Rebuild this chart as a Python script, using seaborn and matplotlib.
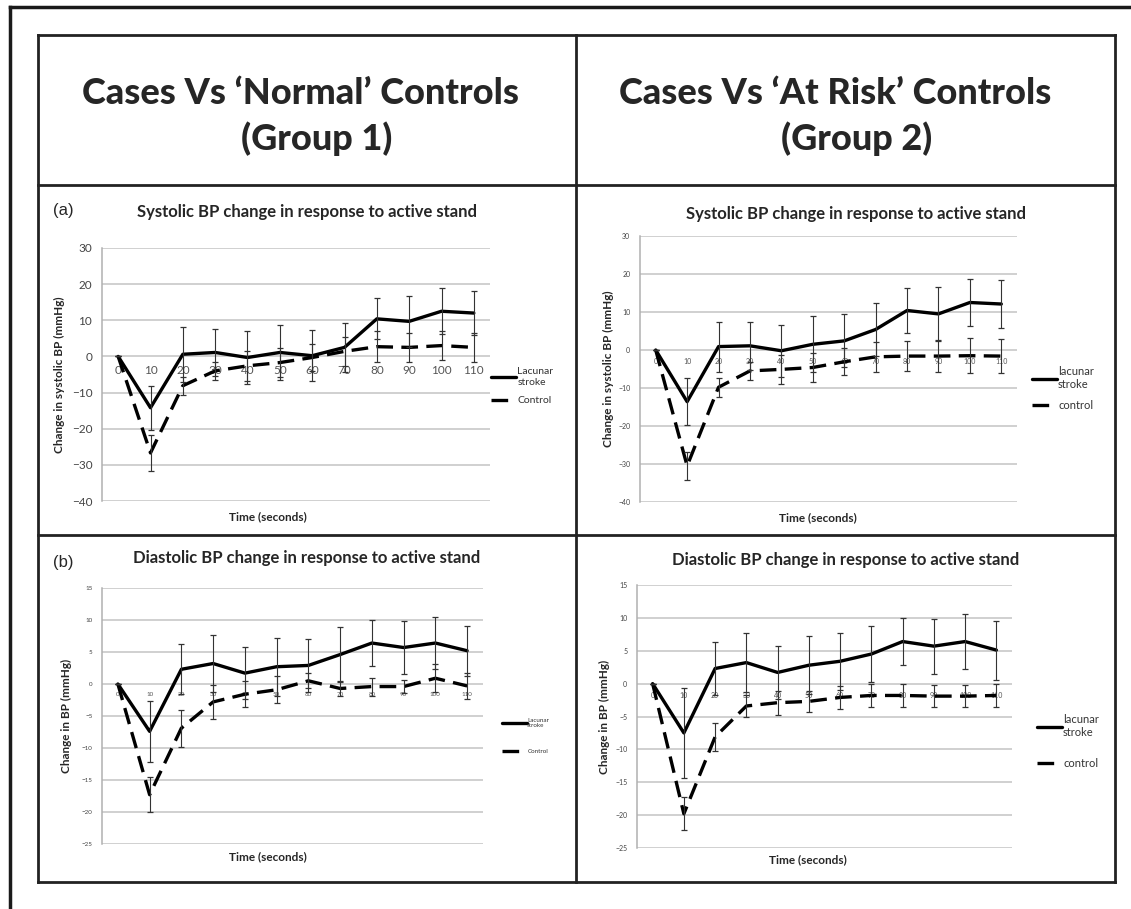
import numpy as np
import pandas as pd
import matplotlib.pyplot as plt
import seaborn as sns
from matplotlib.lines import Line2D

sns.set_style("white")
plt.rcParams['font.family'] = ['Lato', 'DejaVu Sans']

# time points (seconds)
time_s = [0, 10, 20, 30, 40, 50, 60, 70, 80, 90, 100, 110]

# (a) systolic, group 1 (normal controls)
sys1_lacunar = [0, -14.2, 0.6, 1.1, -0.3, 1.1, 0.2, 2.5, 10.4, 9.7, 12.5, 12.0]
sys1_lacunar_err = [0, 6.1, 7.6, 6.5, 7.2, 7.6, 7.1, 6.7, 5.7, 7.1, 6.3, 6.0]
sys1_control = [0, -26.7, -8.1, -4.0, -2.6, -1.7, -0.3, 1.4, 2.7, 2.5, 3.0, 2.5]
sys1_control_err = [0, 5.0, 2.5, 2.5, 4.2, 3.9, 3.7, 4.0, 4.2, 4.0, 4.0, 4.0]

# (a) systolic, group 2 (at risk controls)
sys2_lacunar = [0, -13.6, 0.9, 1.1, -0.2, 1.5, 2.4, 5.4, 10.4, 9.5, 12.5, 12.1]
sys2_lacunar_err = [0, 6.2, 6.6, 6.4, 6.8, 7.4, 7.0, 6.9, 5.9, 7.0, 6.2, 6.2]
sys2_control = [0, -30.5, -9.8, -5.5, -5.1, -4.6, -3.1, -1.8, -1.6, -1.6, -1.5, -1.6]
sys2_control_err = [0, 3.7, 2.5, 2.4, 3.8, 3.7, 3.5, 3.9, 3.9, 4.3, 4.6, 4.4]

# (b) diastolic, group 1
dia1_lacunar = [0, -7.4, 2.3, 3.2, 1.7, 2.7, 2.9, 4.6, 6.4, 5.7, 6.4, 5.2]
dia1_lacunar_err = [0, 4.8, 3.9, 4.5, 4.1, 4.5, 4.2, 4.3, 3.6, 4.2, 4.0, 3.9]
dia1_control = [0, -17.3, -6.9, -2.8, -1.6, -0.9, 0.5, -0.7, -0.4, -0.4, 0.9, -0.3]
dia1_control_err = [0, 2.7, 2.9, 2.6, 2.0, 2.1, 1.2, 1.1, 1.4, 1.0, 2.2, 2.0]

# (b) diastolic, group 2
dia2_lacunar = [0, -7.5, 2.3, 3.2, 1.7, 2.8, 3.4, 4.5, 6.4, 5.7, 6.4, 5.1]
dia2_lacunar_err = [0, 6.9, 4.0, 4.5, 4.0, 4.4, 4.3, 4.3, 3.6, 4.2, 4.2, 4.5]
dia2_control = [0, -19.8, -8.1, -3.4, -2.9, -2.7, -2.1, -1.8, -1.8, -1.9, -1.9, -1.8]
dia2_control_err = [0, 2.5, 2.1, 1.7, 1.8, 1.6, 1.7, 1.7, 1.7, 1.7, 1.7, 1.8]

W, H = 1131, 909
fig = plt.figure(figsize=(W / 100, H / 100), dpi=100)
DASH = (5, 2.5)


def px_rect(x0, y0, x1, y1):
    return [x0 / W, 1 - y1 / H, (x1 - x0) / W, (y1 - y0) / H]


def panel(rect, lac, lac_err, con, con_err, ylim, ystep, ylabel, labels,
          tick_fs, leg_fs, leg_xy, ylab_x, xlab_xy, lab_fs, leg_gap=0.9):
    ax = fig.add_axes(rect)
    df = pd.DataFrame({
        'time': time_s * 2,
        'change': lac + con,
        'group': ['lacunar'] * len(time_s) + ['control'] * len(time_s),
    })
    sns.lineplot(data=df, x='time', y='change', style='group',
                 dashes={'lacunar': '', 'control': DASH},
                 color='black', lw=2.4, ax=ax, legend=False)
    ax.errorbar(time_s, lac, yerr=lac_err, fmt='none', ecolor='#333333',
                elinewidth=0.8, capsize=2, capthick=0.9)
    ax.errorbar(time_s, con, yerr=con_err, fmt='none', ecolor='#333333',
                elinewidth=0.8, capsize=2, capthick=0.9)
    ax.set_xlim(-5, 115)
    ax.set_ylim(*ylim)
    ax.set_xticks(time_s)
    ax.set_xticklabels([str(t) for t in time_s])
    ax.set_yticks(np.arange(ylim[0], ylim[1] + 1, ystep))
    ax.yaxis.grid(True, color='#c4c4c4', lw=1.1)
    ax.xaxis.grid(False)
    ax.set_axisbelow(True)
    for s in ['top', 'right']:
        ax.spines[s].set_visible(False)
    # category labels sit on the zero line, as in the original
    ax.spines['bottom'].set_position(('data', 0))
    ax.spines['bottom'].set_visible(False)
    ax.spines['left'].set_color('#b0b0b0')
    ax.spines['left'].set_linewidth(1.1)
    ax.tick_params(axis='x', length=0, pad=6, labelsize=tick_fs, colors='#555555')
    ax.tick_params(axis='y', length=4, width=1, color='#b0b0b0', pad=3,
                   labelsize=tick_fs, labelcolor='#444444')
    ax.set_ylabel(ylabel, fontsize=lab_fs, fontweight='bold')
    ax.yaxis.set_label_coords(ylab_x, 0.5)
    ax.set_xlabel('Time (seconds)', fontsize=lab_fs, fontweight='bold')
    ax.xaxis.set_label_coords(*xlab_xy)
    handles = [Line2D([], [], color='black', lw=2.4),
               Line2D([], [], color='black', lw=2.4, dashes=DASH)]
    # legend line ~25 px long whatever the font size
    hl = 25 / (leg_fs * 100 / 72)
    ax.legend(handles, labels, loc='upper left',
              bbox_to_anchor=(leg_xy[0] / W, 1 - leg_xy[1] / H),
              bbox_transform=fig.transFigure, frameon=False,
              fontsize=leg_fs, handlelength=hl, handletextpad=0.1,
              labelspacing=leg_gap, labelcolor='#333333')
    return ax


panel(px_rect(102, 248, 490, 501), sys1_lacunar, sys1_lacunar_err,
      sys1_control, sys1_control_err, (-40, 30), 10,
      'Change in systolic BP (mmHg)', ['Lacunar\nstroke', 'Control'],
      8.5, 7.5, (482, 358), -0.095, (0.428, -0.04), 8.5)
panel(px_rect(640, 236, 1017, 502), sys2_lacunar, sys2_lacunar_err,
      sys2_control, sys2_control_err, (-40, 30), 10,
      'Change in systolic BP (mmHg)', ['lacunar\nstroke', 'control'],
      5, 8, (1022, 356), -0.07, (0.472, -0.04), 8.5)
panel(px_rect(102, 588, 483, 844), dia1_lacunar, dia1_lacunar_err,
      dia1_control, dia1_control_err, (-25, 15), 5,
      'Change in BP (mmHg)', ['Lacunar\nstroke', 'Control'],
      4.5, 4.5, (496, 712), -0.08, (0.436, -0.03), 8.5, leg_gap=3.2)
panel(px_rect(637, 585, 1012, 848), dia2_lacunar, dia2_lacunar_err,
      dia2_control, dia2_control_err, (-25, 15), 5,
      'Change in BP (mmHg)', ['lacunar\nstroke', 'control'],
      5, 8, (1027, 704), -0.073, (0.456, -0.025), 8.5, leg_gap=1.8)

# panel titles
def ftext(x, y, s, **kw):
    fig.text(x / W, 1 - y / H, s, ha='center', va='center', **kw)


ftext(307, 212, 'Systolic BP change in response to active stand', fontsize=12, fontweight='bold')
ftext(856, 214, 'Systolic BP change in response to active stand', fontsize=12, fontweight='bold')
ftext(307, 558, 'Diastolic BP change in response to active stand', fontsize=12, fontweight='bold')
ftext(846, 560, 'Diastolic BP change in response to active stand', fontsize=12, fontweight='bold')
ftext(63, 211, '(a)', fontsize=12, family=['Liberation Sans', 'DejaVu Sans'])
ftext(63, 562, '(b)', fontsize=12, family=['Liberation Sans', 'DejaVu Sans'])

# header row
ftext(300, 93, 'Cases Vs \u2018Normal\u2019 Controls', fontsize=26, fontweight='black')
ftext(317, 139, '(Group 1)', fontsize=26, fontweight='black')
ftext(835, 93, 'Cases Vs \u2018At Risk\u2019 Controls', fontsize=26, fontweight='black')
ftext(857, 139, '(Group 2)', fontsize=26, fontweight='black')

# table frame
def fline(x0, y0, x1, y1, lw=2, c='#222222'):
    fig.add_artist(Line2D([x0 / W, x1 / W], [1 - y0 / H, 1 - y1 / H],
                          color=c, lw=lw, solid_capstyle='projecting'))


fline(10, 7, 10, 909, lw=2.5, c='#1a1a1a')
fline(10, 7, 1131, 7, lw=2.5, c='#1a1a1a')
fline(38, 35, 1115, 35)
fline(38, 882, 1115, 882)
fline(38, 35, 38, 882)
fline(1115, 35, 1115, 882)
fline(576, 35, 576, 882)
fline(38, 185, 1115, 185)
fline(38, 535, 1115, 535)

fig.savefig('out.png', dpi=100)
